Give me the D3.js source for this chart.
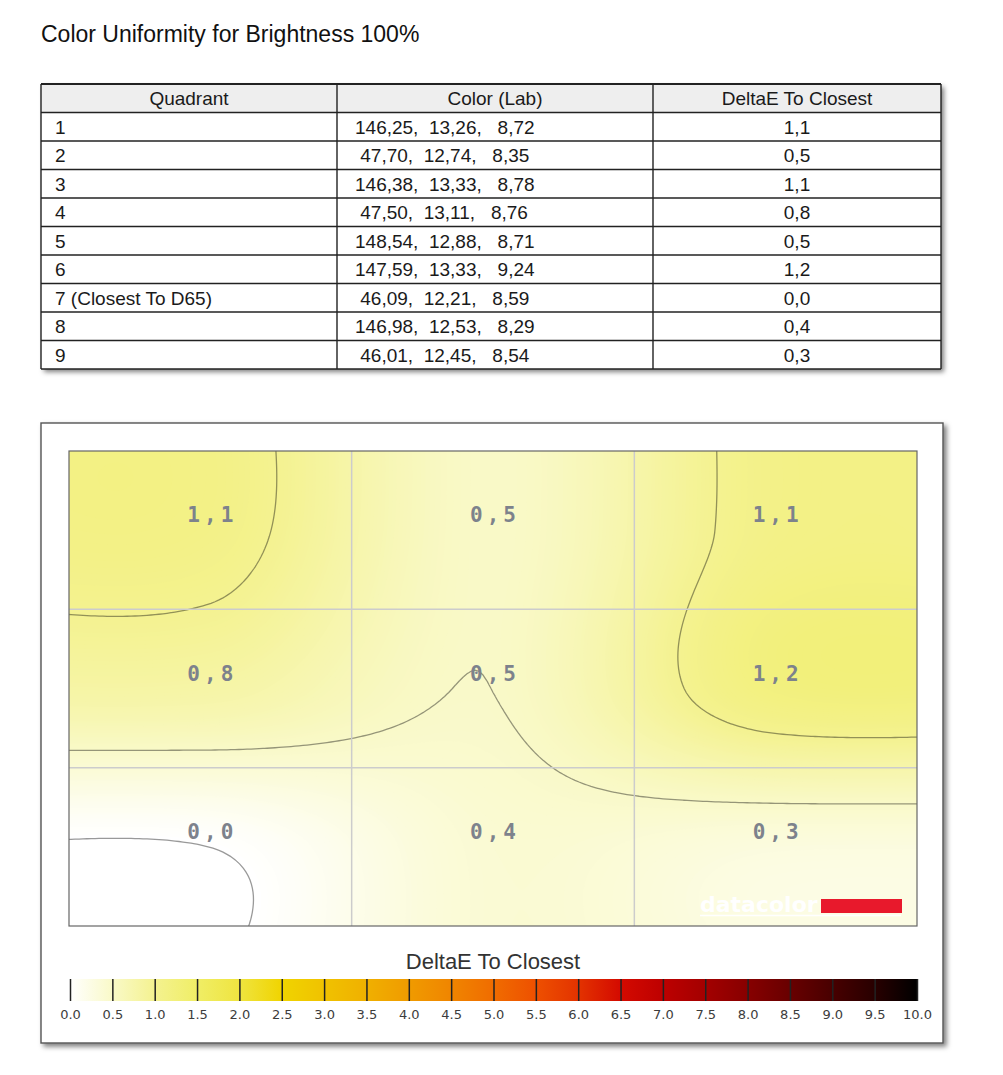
<!DOCTYPE html>
<html>
<head>
<meta charset="utf-8">
<script src="https://cdn.jsdelivr.net/npm/d3@7"></script>
<style>
body { margin: 0; background: #fff; }
svg { display: block; }
</style>
</head>
<body>
<svg id="chart" width="1003" height="1075"></svg>
<script>

var title = "Color Uniformity for Brightness 100%";
var columns = ["Quadrant", "Color (Lab)", "DeltaE To Closest"];
var quadrants = ["1", "2", "3", "4", "5", "6", "7 (Closest To D65)", "8", "9"];
var labL = [146.25, 47.70, 146.38, 47.50, 148.54, 147.59, 46.09, 146.98, 46.01];
var labA = [13.26, 12.74, 13.33, 13.11, 12.88, 13.33, 12.21, 12.53, 12.45];
var labB = [8.72, 8.35, 8.78, 8.76, 8.71, 9.24, 8.59, 8.29, 8.54];
var deltaE = [1.1, 0.5, 1.1, 0.8, 0.5, 1.2, 0.0, 0.4, 0.3];

var gridCols = 3, gridRows = 3;
var contourLevels = [0, 0.5, 1.0];
var scaleTitle = "DeltaE To Closest";
var scaleStops = [0, 0.5, 1, 1.5, 2, 2.5, 3, 3.5, 4, 4.5, 5, 5.5, 6, 6.5, 7, 7.5, 8, 8.5, 9, 9.5, 10];
var scaleColors = ["#ffffff", "#f9f9c8", "#f4f290", "#f0ee66", "#efe440", "#f0d400", "#f0c200",
    "#f0b000", "#f09b00", "#f08500", "#f06c00", "#ee5000", "#e33300", "#d40a00", "#bd0000",
    "#a30000", "#870000", "#680000", "#480000", "#280000", "#000000"];
var logoText = "datacolor";

var svg = d3.select("#chart");
var defs = svg.append("defs");

var shadow = defs.append("filter").attr("id", "shadow")
    .attr("x", "-5%").attr("y", "-5%").attr("width", "115%").attr("height", "115%");
shadow.append("feDropShadow")
    .attr("dx", 3).attr("dy", 3).attr("stdDeviation", 2.5)
    .attr("flood-color", "#000").attr("flood-opacity", 0.5);

var sans = "'Liberation Sans', Arial, sans-serif";

svg.append("text")
    .attr("x", 41).attr("y", 42)
    .attr("font-family", sans).attr("font-size", 23).attr("fill", "#111")
    .text(title);

// ---- table ----
var fmt2 = function (v, w) {
    var s = d3.format(".2f")(v).replace(".", ",");
    while (s.length < w) s = " " + s;
    return s;
};
var labText = function (i) {
    return fmt2(labL[i], 6) + ",  " + fmt2(labA[i], 5) + ",  " + fmt2(labB[i], 5);
};

var colEdges = [41, 337, 653, 941];
var rowY = d3.scaleBand().domain(d3.range(quadrants.length + 1)).range([84, 369]);
var table = svg.append("g");

table.append("rect")
    .attr("x", colEdges[0]).attr("y", rowY.range()[0])
    .attr("width", colEdges[3] - colEdges[0]).attr("height", rowY.range()[1] - rowY.range()[0])
    .attr("fill", "#fff").attr("filter", "url(#shadow)");
table.append("rect")
    .attr("x", colEdges[0]).attr("y", rowY(0))
    .attr("width", colEdges[3] - colEdges[0]).attr("height", rowY.bandwidth())
    .attr("fill", "#eeeeee");

table.selectAll(".head").data(columns).enter().append("text")
    .attr("class", "head")
    .attr("x", function (d, i) { return (colEdges[i] + colEdges[i + 1]) / 2; })
    .attr("y", rowY(0) + rowY.bandwidth() / 2 + 7)
    .attr("text-anchor", "middle")
    .attr("font-family", sans).attr("font-size", 19).attr("fill", "#1a1a1a")
    .text(function (d) { return d; });

var rows = table.selectAll(".row").data(quadrants).enter().append("g")
    .attr("class", "row")
    .attr("transform", function (d, i) {
        return "translate(0," + (rowY(i + 1) + rowY.bandwidth() / 2 + 7) + ")";
    })
    .attr("font-family", sans).attr("font-size", 19).attr("fill", "#1a1a1a");

rows.append("text").attr("x", 55).text(function (d) { return d; });
rows.append("text").attr("x", 355).style("white-space", "pre")
    .text(function (d, i) { return labText(i); });
rows.append("text").attr("x", (colEdges[2] + colEdges[3]) / 2).attr("text-anchor", "middle")
    .text(function (d, i) { return d3.format(".1f")(deltaE[i]).replace(".", ","); });

table.selectAll(".hline").data(d3.range(quadrants.length + 2)).enter().append("line")
    .attr("x1", colEdges[0]).attr("x2", colEdges[3])
    .attr("y1", function (d) { return d === 0 ? rowY(0) : rowY(d - 1) + rowY.bandwidth(); })
    .attr("y2", function (d) { return d === 0 ? rowY(0) : rowY(d - 1) + rowY.bandwidth(); })
    .attr("stroke", "#222").attr("stroke-width", function (d) { return d === 0 ? 2 : 1.4; });
table.selectAll(".vline").data(colEdges).enter().append("line")
    .attr("x1", function (d) { return d; }).attr("x2", function (d) { return d; })
    .attr("y1", rowY.range()[0]).attr("y2", rowY.range()[1])
    .attr("stroke", "#222").attr("stroke-width", 1.4);

// ---- heat map panel ----
svg.append("rect")
    .attr("x", 41).attr("y", 423).attr("width", 902).attr("height", 620)
    .attr("fill", "#fff").attr("stroke", "#555").attr("stroke-width", 1.4)
    .attr("filter", "url(#shadow)");

var plot = { x0: 69, x1: 917, y0: 451, y1: 926 };
var cx = d3.scaleLinear().domain([-0.5, gridCols - 0.5]).range([plot.x0, plot.x1]);
var cy = d3.scaleLinear().domain([-0.5, gridRows - 0.5]).range([plot.y0, plot.y1]);

var color = d3.scaleLinear().domain(scaleStops).range(scaleColors).clamp(true);

// smooth surface through the nine readings (cardinal spline, edges clamped)
var tension = 0.75;
function cell(r, c) {
    r = Math.max(0, Math.min(gridRows - 1, r));
    c = Math.max(0, Math.min(gridCols - 1, c));
    return deltaE[r * gridCols + c];
}
function spline(p0, p1, p2, p3, t) {
    var m1 = tension * (p2 - p0) / 2, m2 = tension * (p3 - p1) / 2, t2 = t * t, t3 = t2 * t;
    return (2 * t3 - 3 * t2 + 1) * p1 + (t3 - 2 * t2 + t) * m1 +
        (-2 * t3 + 3 * t2) * p2 + (t3 - t2) * m2;
}
function field(u, v) {
    var i = Math.floor(u), j = Math.floor(v), tu = u - i, tv = v - j;
    var col = [];
    for (var k = -1; k <= 2; k++) {
        col.push(spline(cell(j + k, i - 1), cell(j + k, i), cell(j + k, i + 1), cell(j + k, i + 2), tu));
    }
    return spline(col[0], col[1], col[2], col[3], tv);
}

// sample the field on a fine grid that runs a little past the plot edges
var step = 4, pad = 4;
var nx = Math.round((plot.x1 - plot.x0) / step) + 2 * pad;
var ny = Math.round((plot.y1 - plot.y0) / step) + 2 * pad;
var gx = d3.scaleLinear().domain([pad, nx - pad]).range([plot.x0, plot.x1]);
var gy = d3.scaleLinear().domain([pad, ny - pad]).range([plot.y0, plot.y1]);
var values = new Array(nx * ny);
for (var j = 0; j < ny; j++) {
    for (var i = 0; i < nx; i++) {
        values[j * nx + i] = field(cx.invert(gx(i + 0.5)), cy.invert(gy(j + 0.5)));
    }
}

var gridPath = d3.geoPath(d3.geoTransform({
    point: function (x, y) { this.stream.point(gx(x), gy(y)); }
}));

defs.append("clipPath").attr("id", "plotClip").append("rect")
    .attr("x", plot.x0).attr("y", plot.y0)
    .attr("width", plot.x1 - plot.x0).attr("height", plot.y1 - plot.y0);

var heat = svg.append("g").attr("clip-path", "url(#plotClip)");
heat.append("rect")
    .attr("x", plot.x0).attr("y", plot.y0)
    .attr("width", plot.x1 - plot.x0).attr("height", plot.y1 - plot.y0)
    .attr("fill", color(0));

var fillSteps = d3.range(0.01, d3.max(values) + 0.01, 0.01);
heat.selectAll(".band")
    .data(d3.contours().size([nx, ny]).thresholds(fillSteps)(values))
    .enter().append("path")
    .attr("d", gridPath)
    .attr("fill", function (d) { return color(d.value + 0.005); });

// iso lines sit a hair under each level so flat plateaus don't draw a line
heat.selectAll(".iso")
    .data(d3.contours().size([nx, ny])
        .thresholds(contourLevels.map(function (d) { return d - 0.001; }))(values))
    .enter().append("path")
    .attr("d", gridPath)
    .attr("fill", "none")
    .attr("stroke", "#000").attr("stroke-opacity", 0.4).attr("stroke-width", 1.3);

heat.selectAll(".gx").data(d3.range(0.5, gridCols - 1, 1)).enter().append("line")
    .attr("x1", cx).attr("x2", cx).attr("y1", plot.y0).attr("y2", plot.y1)
    .attr("stroke", "#cccccc").attr("stroke-width", 1.5);
heat.selectAll(".gy").data(d3.range(0.5, gridRows - 1, 1)).enter().append("line")
    .attr("y1", cy).attr("y2", cy).attr("x1", plot.x0).attr("x2", plot.x1)
    .attr("stroke", "#cccccc").attr("stroke-width", 1.5);

heat.selectAll(".val").data(deltaE).enter().append("text")
    .attr("x", function (d, i) { return cx(i % gridCols) + 2; })
    .attr("y", function (d, i) { return cy(Math.floor(i / gridCols)) - 8; })
    .attr("text-anchor", "middle")
    .attr("font-family", "'DejaVu Sans Mono', monospace").attr("font-weight", "bold")
    .attr("font-size", 21).attr("letter-spacing", 4)
    .attr("fill", "#7d828c")
    .text(function (d) { return d3.format(".1f")(d).replace(".", ","); });

// logo
var logo = svg.append("g");
logo.append("text")
    .attr("x", 700).attr("y", 912)
    .attr("font-family", "'DejaVu Sans', sans-serif").attr("font-weight", "bold")
    .attr("font-size", 22).attr("fill", "#fff")
    .text(logoText);
logo.append("line").attr("x1", 700).attr("x2", 901).attr("y1", 915.5).attr("y2", 915.5)
    .attr("stroke", "#fff").attr("stroke-width", 1.5);
logo.append("rect").attr("x", 821).attr("y", 899).attr("width", 81).attr("height", 14)
    .attr("fill", "#e8192c");

svg.append("rect")
    .attr("x", plot.x0).attr("y", plot.y0)
    .attr("width", plot.x1 - plot.x0).attr("height", plot.y1 - plot.y0)
    .attr("fill", "none").attr("stroke", "#666").attr("stroke-width", 1.2);

// ---- colour scale ----
svg.append("text")
    .attr("x", 493).attr("y", 969).attr("text-anchor", "middle")
    .attr("font-family", sans).attr("font-size", 22).attr("fill", "#333")
    .text(scaleTitle);

var barX = d3.scaleLinear().domain([0, 10]).range([70, 917]);
var grad = defs.append("linearGradient").attr("id", "scaleGrad");
grad.selectAll("stop").data(scaleStops).enter().append("stop")
    .attr("offset", function (d) { return (d / 10 * 100) + "%"; })
    .attr("stop-color", function (d) { return color(d); });

svg.append("rect")
    .attr("x", barX(0)).attr("y", 979)
    .attr("width", barX(10) - barX(0)).attr("height", 22)
    .attr("fill", "url(#scaleGrad)");

var axis = svg.append("g")
    .attr("transform", "translate(0,979)")
    .call(d3.axisBottom(barX).tickValues(scaleStops).tickFormat(d3.format(".1f"))
        .tickSize(22).tickPadding(9));
axis.select(".domain").remove();
axis.selectAll(".tick line").attr("stroke", "#222").attr("stroke-width", 1.5);
axis.selectAll(".tick text")
    .attr("font-family", "'DejaVu Sans', sans-serif").attr("font-size", 13).attr("fill", "#3c3c3c");

</script>
</body>
</html>
